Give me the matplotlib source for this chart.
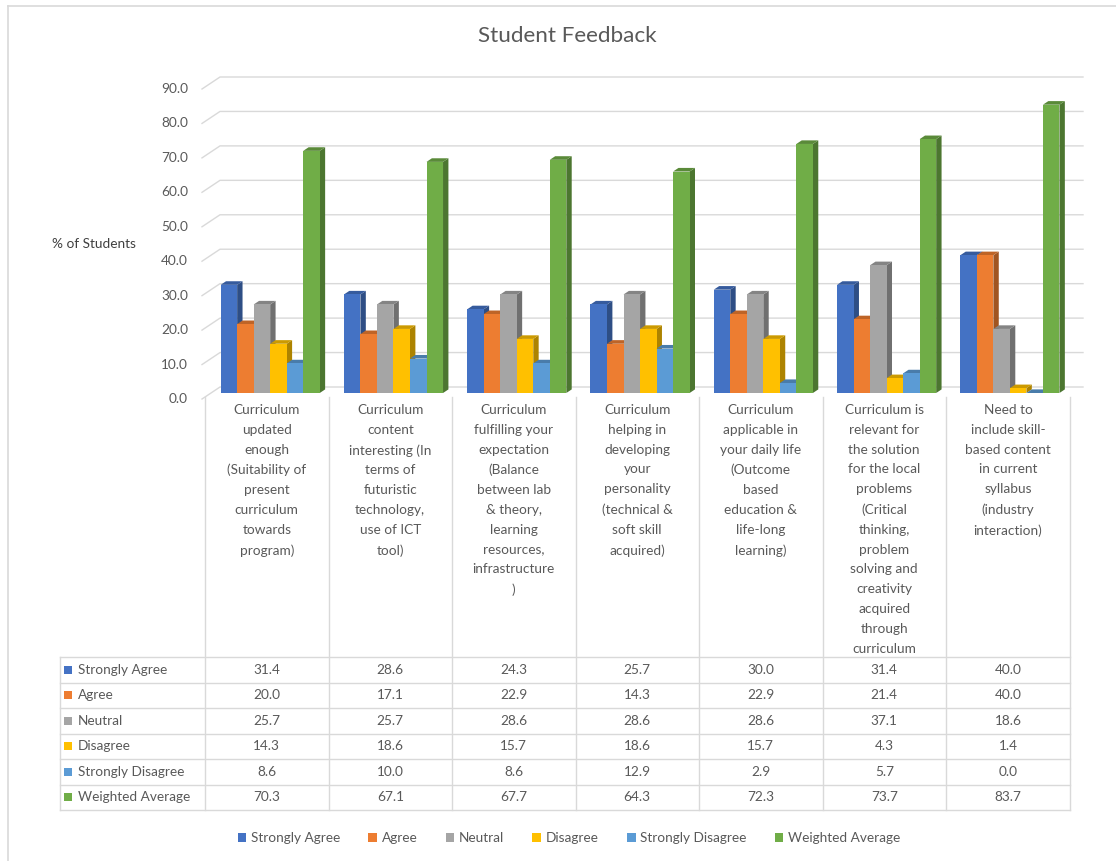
import matplotlib
matplotlib.use("Agg")
import matplotlib.pyplot as plt
from matplotlib.patches import Polygon, Rectangle
from matplotlib.lines import Line2D
import numpy as np

# ---------------- data ----------------
categories = [
    "Curriculum\nupdated\nenough\n(Suitability of\npresent\ncurriculum\ntowards\nprogram)",
    "Curriculum\ncontent\ninteresting (In\nterms of\nfuturistic\ntechnology,\nuse of ICT\ntool)",
    "Curriculum\nfulfilling your\nexpectation\n(Balance\nbetween lab\n& theory,\nlearning\nresources,\ninfrastructure\n)",
    "Curriculum\nhelping in\ndeveloping\nyour\npersonality\n(technical &\nsoft skill\nacquired)",
    "Curriculum\napplicable in\nyour daily life\n(Outcome\nbased\neducation &\nlife-long\nlearning)",
    "Curriculum is\nrelevant for\nthe solution\nfor the local\nproblems\n(Critical\nthinking,\nproblem\nsolving and\ncreativity\nacquired\nthrough\ncurriculum",
    "Need to\ninclude skill-\nbased content\nin current\nsyllabus\n(industry\ninteraction)",
]
series_names = ["Strongly Agree", "Agree", "Neutral", "Disagree",
                "Strongly Disagree", "Weighted Average"]
strongly_agree = [31.4, 28.6, 24.3, 25.7, 30.0, 31.4, 40.0]
agree = [20.0, 17.1, 22.9, 14.3, 22.9, 21.4, 40.0]
neutral = [25.7, 25.7, 28.6, 28.6, 28.6, 37.1, 18.6]
disagree = [14.3, 18.6, 15.7, 18.6, 15.7, 4.3, 1.4]
strongly_disagree = [8.6, 10.0, 8.6, 12.9, 2.9, 5.7, 0.0]
weighted_average = [70.3, 67.1, 67.7, 64.3, 72.3, 73.7, 83.7]
series_values = [strongly_agree, agree, neutral, disagree,
                 strongly_disagree, weighted_average]
colors = ["#4472C4", "#ED7D31", "#A5A5A5", "#FFC000", "#5B9BD5", "#70AD47"]
y_ticks = [0, 10, 20, 30, 40, 50, 60, 70, 80, 90]

# ---------------- layout ----------------
W, H = 1116, 861
FONT = "Lato"
TXT = "#595959"
GRID = "#D9D9D9"
fig = plt.figure(figsize=(W / 100, H / 100), dpi=100)
fig.patch.set_facecolor("white")

def fx(px):
    return px / W

def fy(py):
    return 1 - py / H

# geometry of plot area (pixels)
front_left, front_right = 202, 1065
y0_px, y90_px = 399, 89
dx_px, dy_px = 18, 12
ncat = len(categories)
ppu_x = (front_right - front_left) / ncat
ppu_y = (y0_px - y90_px) / 90.0
DX = dx_px / ppu_x
DY = dy_px / ppu_y

ax = fig.add_axes([fx(front_left), fy(y0_px),
                   (front_right + dx_px - front_left) / W,
                   (y0_px - (y90_px - dy_px)) / H])
ax.set_xlim(0, ncat + DX)
ax.set_ylim(0, 90 + DY)
ax.axis("off")

# gridlines (side wall + back wall)
for v in y_ticks:
    ax.plot([0, DX, ncat + DX], [v, v + DY, v + DY], color=GRID, lw=1.0,
            zorder=1, clip_on=False)
    ax.text(-14 / ppu_x, v, f"{v:.1f}", ha="right", va="center",
            fontsize=9.8, color=TXT, family=FONT)

def shade(c, f):
    r, g, b = matplotlib.colors.to_rgb(c)
    return (r * f, g * f, b * f)

nser = len(series_values)
bw = 0.134
group_w = bw * nser
depth_front = 0.5
depth_len = 0.3
z = 2
for i in range(ncat):
    start = i + (1 - group_w) / 2 - 0.02
    for j in range(nser):
        v = series_values[j][i]
        x0 = start + j * bw + depth_front * DX
        x1 = x0 + bw
        yb = depth_front * DY
        yt = v + depth_front * DY
        ddx, ddy = depth_len * DX, depth_len * DY
        c = colors[j]
        side = Polygon([(x1, yb), (x1 + ddx, yb + ddy), (x1 + ddx, yt + ddy), (x1, yt)],
                       closed=True, facecolor=shade(c, 0.68), edgecolor="none", zorder=z)
        top = Polygon([(x0, yt), (x1, yt), (x1 + ddx, yt + ddy), (x0 + ddx, yt + ddy)],
                      closed=True, facecolor=shade(c, 0.8), edgecolor="none", zorder=z)
        front = Rectangle((x0, yb), bw, v, facecolor=c, edgecolor="none", zorder=z + 0.5)
        ax.add_patch(side)
        ax.add_patch(top)
        ax.add_patch(front)
        z += 1

# y axis title
fig.text(fx(52), fy(244), "% of Students", ha="left", va="center",
         fontsize=9.8, color="#404040", family=FONT)

# title
fig.text(fx(567), fy(36), "Student Feedback", ha="center", va="center",
         fontsize=16.2, color=TXT, family=FONT)

# ---------------- data table ----------------
col_edges = [205, 328.5, 452, 575.5, 699, 822.5, 946, 1070]
left_col = 60
header_top = 397
row_top = 657
row_h = 25.5
nrows = len(series_names)
table_bottom = row_top + nrows * row_h

def hline(x0, x1, y):
    fig.add_artist(Line2D([fx(x0), fx(x1)], [fy(y), fy(y)], color=GRID, lw=1.0))

def vline(x, y0, y1):
    fig.add_artist(Line2D([fx(x), fx(x)], [fy(y0), fy(y1)], color=GRID, lw=1.0))

for k in range(nrows + 1):
    hline(left_col, col_edges[-1], row_top + k * row_h)
vline(left_col, row_top, table_bottom)
for x in col_edges:
    vline(x, header_top, table_bottom)

for i, cat in enumerate(categories):
    cx = (col_edges[i] + col_edges[i + 1]) / 2
    fig.text(fx(cx), fy(404), cat, ha="center", va="top", fontsize=9.8,
             color=TXT, family=FONT, linespacing=1.78)

for r, name in enumerate(series_names):
    cy = row_top + (r + 0.5) * row_h
    fig.add_artist(Rectangle((fx(64), fy(cy + 4)), 8 / W, 8 / H,
                             facecolor=colors[r], edgecolor="none",
                             transform=fig.transFigure))
    fig.text(fx(78), fy(cy), name, ha="left", va="center", fontsize=9.8,
             color=TXT, family=FONT)
    for i in range(ncat):
        cx = (col_edges[i] + col_edges[i + 1]) / 2
        fig.text(fx(cx), fy(cy), f"{series_values[r][i]:.1f}", ha="center",
                 va="center", fontsize=9.8, color=TXT, family=FONT)

# ---------------- legend ----------------
handles = [Rectangle((0, 0), 1, 1, facecolor=c, edgecolor="none") for c in colors]
leg = fig.legend(handles, series_names, loc="center", ncol=6,
                 bbox_to_anchor=(fx(569), fy(838)), frameon=False,
                 handlelength=0.65, handleheight=0.65, handletextpad=0.35,
                 columnspacing=2.05, prop={"family": FONT, "size": 9.8})
for t in leg.get_texts():
    t.set_color(TXT)

# outer border (top and left)
fig.add_artist(Line2D([fx(8), 1], [fy(6), fy(6)], color=GRID, lw=1.2))
fig.add_artist(Line2D([fx(8), fx(8)], [fy(6), 0], color=GRID, lw=1.2))

fig.savefig("out.png", dpi=100, facecolor="white")
